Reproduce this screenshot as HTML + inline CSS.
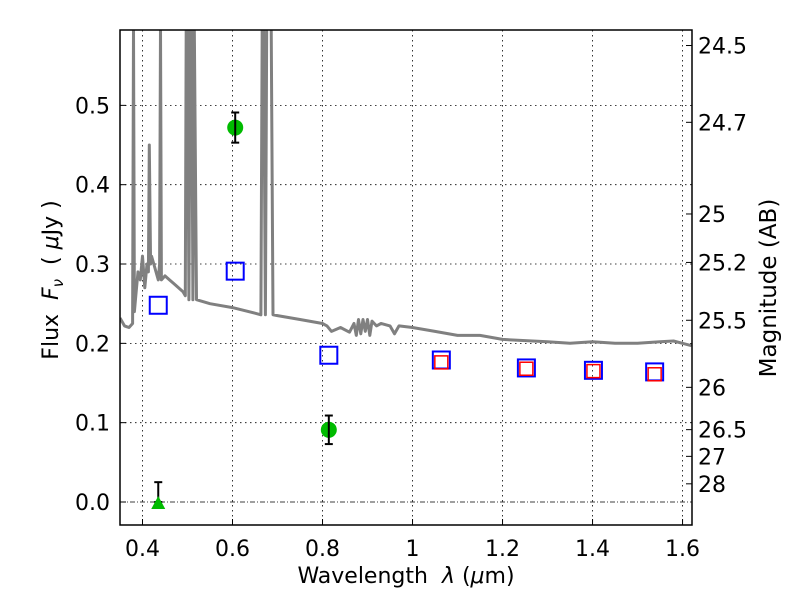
<!DOCTYPE html>
<html><head><meta charset="utf-8"><style>
body{margin:0;background:#fff}
svg{font-family:"DejaVu Sans","Liberation Sans",sans-serif}
text{white-space:pre}
</style></head><body>
<svg id="chart" width="800" height="600" viewBox="0 0 800 600">
<rect x="0" y="0" width="800" height="600" fill="#fff"/>
<g id="grid"></g>
<g id="spec"></g>
<g id="marks"></g>
<rect x="120" y="30" width="572" height="495" fill="none" stroke="#000" stroke-width="1.5"/>
<g id="axes"></g>
<text x="406" y="583" font-size="22" text-anchor="middle">Wavelength  <tspan font-style="italic">λ</tspan> (<tspan font-style="italic">μ</tspan>m)</text>
<text transform="translate(58,280) rotate(-90)" font-size="22" text-anchor="middle">Flux  <tspan font-style="italic">F</tspan><tspan font-style="italic" font-size="15" dy="5">ν</tspan><tspan dy="-5">  ( </tspan><tspan font-style="italic">μ</tspan>Jy )</text>
<text transform="translate(776,288) rotate(-90)" font-size="23" text-anchor="middle">Magnitude (AB)</text>
</svg>
<script>
const xTicks=[0.4,0.6,0.8,1.0,1.2,1.4,1.6];
const xTickLabels=["0.4","0.6","0.8","1","1.2","1.4","1.6"];
const yTicks=[0,0.1,0.2,0.3,0.4,0.5];
const yTickLabels=["0.0","0.1","0.2","0.3","0.4","0.5"];
const magTicks=[24.5,24.7,25,25.2,25.5,26,26.5,27,28];
const specX=[0.35,0.36,0.37,0.378,0.38,0.382,0.385,0.39,0.395,0.40,0.405,0.41,0.413,0.415,0.418,0.42,0.425,0.43,0.435,0.438,0.44,0.442,0.45,0.46,0.47,0.48,0.49,0.495,0.497,0.50,0.503,0.506,0.509,0.512,0.515,0.52,0.55,0.6,0.65,0.663,0.666,0.669,0.673,0.676,0.679,0.682,0.686,0.69,0.70,0.75,0.80,0.81,0.82,0.84,0.86,0.87,0.875,0.88,0.885,0.89,0.895,0.90,0.905,0.91,0.92,0.93,0.95,0.96,0.97,1.0,1.05,1.1,1.15,1.2,1.3,1.35,1.4,1.45,1.5,1.55,1.58,1.6,1.62];
const specY=[0.232,0.222,0.22,0.225,0.6,0.24,0.26,0.29,0.28,0.31,0.27,0.30,0.29,0.45,0.3,0.31,0.3,0.29,0.28,0.3,0.6,0.28,0.285,0.28,0.275,0.27,0.265,0.26,0.6,0.6,0.255,0.6,0.6,0.255,0.6,0.255,0.25,0.245,0.238,0.236,0.6,0.6,0.236,0.6,0.6,0.6,0.6,0.236,0.235,0.23,0.225,0.222,0.215,0.22,0.214,0.225,0.21,0.23,0.212,0.23,0.215,0.23,0.21,0.228,0.222,0.225,0.222,0.212,0.222,0.22,0.215,0.21,0.21,0.205,0.202,0.2,0.202,0.2,0.2,0.202,0.203,0.2,0.197];
const detX=[0.606,0.814];
const detY=[0.472,0.091];
const detErr=[0.019,0.018];
const limX=[0.435];
const limY=[0.0];
const limErr=[0.025];
const blueX=[0.435,0.606,0.814,1.064,1.253,1.402,1.538];
const blueY=[0.248,0.291,0.185,0.179,0.169,0.166,0.164];
const redX=[1.064,1.253,1.402,1.538];
const redY=[0.176,0.168,0.165,0.161];
const X0=120,X1=692,Y0=30,Y1=525,xmin=0.35,xmax=1.621,ymin=-0.029,ymax=0.595;
const sx=v=>X0+(v-xmin)/(xmax-xmin)*(X1-X0);
const sy=v=>Y1-(v-ymin)/(ymax-ymin)*(Y1-Y0);
const NS="http://www.w3.org/2000/svg";
function mk(p,t,a){const e=document.createElementNS(NS,t);for(const k in a)e.setAttribute(k,a[k]);p.appendChild(e);return e;}
const grid=document.getElementById('grid'),axes=document.getElementById('axes'),spec=document.getElementById('spec'),marks=document.getElementById('marks');
xTicks.forEach((v,i)=>{const x=sx(v);
 let g=mk(grid,'line',{x1:x,x2:x,y1:Y0,y2:Y1,stroke:'#000','stroke-width':0.8,'stroke-dasharray':'1.5,3.5'});
 
 
 let t=mk(axes,'line',{x1:x,x2:x,y1:Y1,y2:Y1-6,stroke:'#000'});
 
 
 let l=mk(axes,'text',{x:x,y:Y1+31,'font-size':22,'text-anchor':'middle'});l.textContent=xTickLabels[i];
 
 
});
yTicks.forEach((v,i)=>{const y=sy(v);
 let g=mk(grid,'line',{x1:X0,x2:X1,y1:y,y2:y,stroke:'#000','stroke-width':0.8,'stroke-dasharray':v===0?'5,2,1,2':'1.5,3.5'});
 
 
 let t=mk(axes,'line',{x1:X0,x2:X0+6,y1:y,y2:y,stroke:'#000'});
 
 
 let l=mk(axes,'text',{x:X0-10,y:y+8,'font-size':22,'text-anchor':'end'});l.textContent=yTickLabels[i];
 
 
});
magTicks.forEach(m=>{const y=sy(Math.pow(10,(23.9-m)/2.5));
 let t=mk(axes,'line',{x1:X1,x2:X1-6,y1:y,y2:y,stroke:'#000'});
 
 
 let l=mk(axes,'text',{x:X1+6,y:y+8,'font-size':22});l.textContent=String(m);
 
 
});
const cp=mk(document.getElementById('chart'),'clipPath',{id:'clip'});mk(cp,'rect',{x:X0,y:Y0,width:X1-X0,height:Y1-Y0});
spec.setAttribute('clip-path','url(#clip)');
let pts=specX.map((v,i)=>sx(v).toFixed(1)+','+sy(specY[i]).toFixed(1)).join(' ');
let pl=mk(spec,'polyline',{points:pts,fill:'none',stroke:'#808080','stroke-width':3,'stroke-linejoin':'round'});


blueX.forEach((v,i)=>{const x=sx(v),y=sy(blueY[i]);
 let r=mk(marks,'rect',{x:x-8.5,y:y-8.5,width:17,height:17,fill:'none',stroke:'#0000ff','stroke-width':2});
 
 
});
redX.forEach((v,i)=>{const x=sx(v),y=sy(redY[i]);
 let r=mk(marks,'rect',{x:x-6.5,y:y-6.5,width:13,height:13,fill:'none',stroke:'#ff0000','stroke-width':1.5});
 
 
});
function errbar(x,hi,lo){const a=sy(hi),b=sy(lo);
 let g=mk(marks,'g',{stroke:'#000','stroke-width':2});
 
 
 mk(g,'line',{x1:x,x2:x,y1:a,y2:b});mk(g,'line',{x1:x-4,x2:x+4,y1:a,y2:a});mk(g,'line',{x1:x-4,x2:x+4,y1:b,y2:b});}
detX.forEach((v,i)=>{const x=sx(v),y=sy(detY[i]);
 let c=mk(marks,'circle',{cx:x,cy:y,r:8,fill:'#00bb00'});
 
 
 errbar(x,detY[i]+detErr[i],detY[i]-detErr[i]);
});
limX.forEach((v,i)=>{const x=sx(v),y=sy(limY[i]);
 errbar(x,limY[i]+limErr[i],limY[i]);
 let p=mk(marks,'polygon',{points:`${x-7},${y+7} ${x+7},${y+7} ${x},${y-6}`,fill:'#00bb00'});
 
 
});
</script>
</body></html>
